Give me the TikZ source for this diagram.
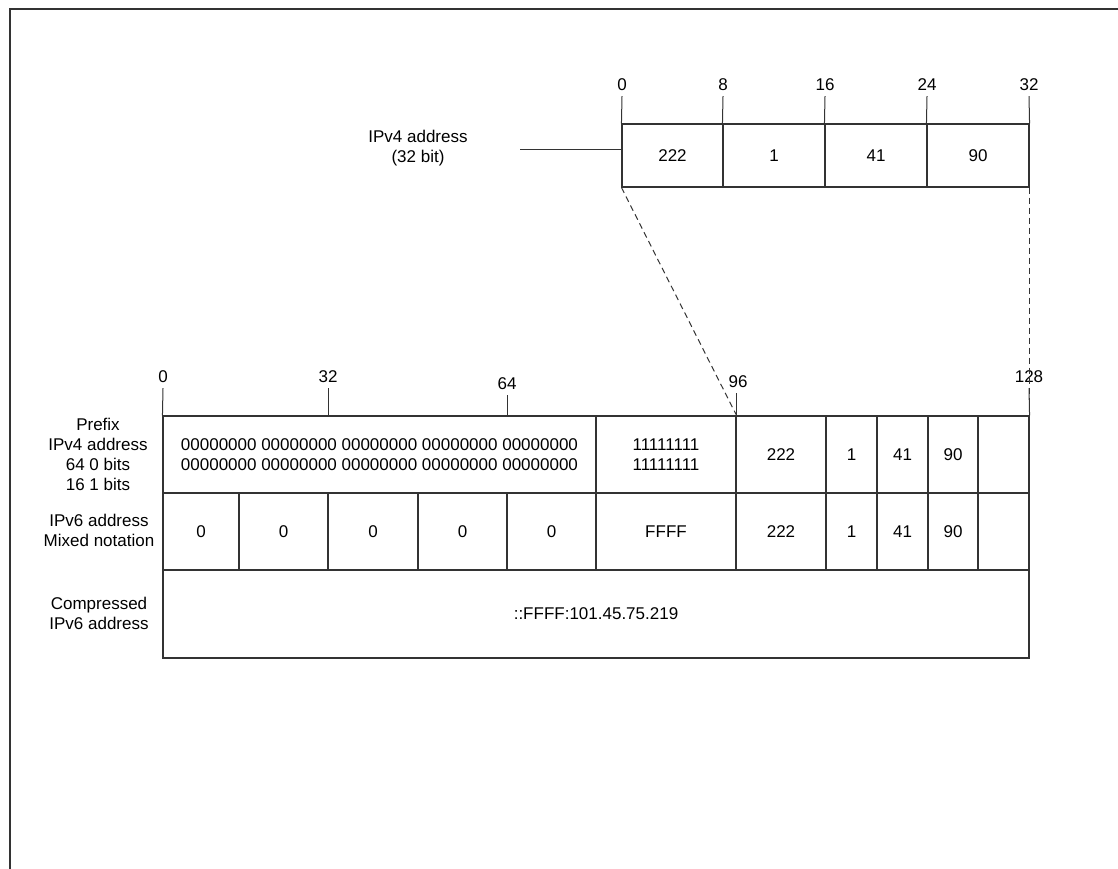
\documentclass[tikz,border=0pt]{standalone}
\usepackage{fontspec}
\setmainfont{Liberation Sans}
\begin{document}
\begin{tikzpicture}[x=1pt, y=-1pt,
    cell/.style ={rectangle, draw=black!80, line width=1.1pt, inner sep=0pt},
    bitmark/.style ={inner sep=5pt},
    rowlabel/.style ={align=center, inner sep=0pt},
    zoomline/.style ={draw=black!80, line width=1pt, dash pattern=on 6pt off 4pt},
    font=\fontsize{17}{20}\selectfont]
   \useasboundingbox (0,0) rectangle (1118,869);
   \draw[black!80, line width=2pt] (1120,9) -- (10,9) -- (10,871);

   % IPv4 address
   \node[rowlabel] (v4label) at (418,148) {IPv4 address\\(32 bit)};
   \coordinate (v4tail) at (520,150);
   \node[cell, minimum width=101pt, minimum height=63pt] (v4a) at (672.5,155.5) {222};
   \node[cell, minimum width=102pt, minimum height=63pt] (v4b) at (774,155.5) {1};
   \node[cell, minimum width=102pt, minimum height=63pt] (v4c) at (876,155.5) {41};
   \node[cell, minimum width=102pt, minimum height=63pt] (v4d) at (978,155.5) {90};

   \node[bitmark] (t0)  at (622,85)  {0};
   \node[bitmark] (t8)  at (723,85)  {8};
   \node[bitmark] (t16) at (825,85)  {16};
   \node[bitmark] (t24) at (927,85)  {24};
   \node[bitmark] (t32) at (1029,85) {32};

   \draw[black!80, line width=1pt] (v4tail) to (v4tail -| v4a.west);
   \draw[black!80, line width=1pt] (t0.south) to (v4a.north west);
   \draw[black!80, line width=1pt] (t8.south) to (v4b.north west);
   \draw[black!80, line width=1pt] (t16.south) to (v4c.north west);
   \draw[black!80, line width=1pt] (t24.south) to (v4d.north west);
   \draw[black!80, line width=1pt] (t32.south) to (v4d.north east);

   % row labels
   \node[rowlabel] (prefixlabel) at (98,454) {Prefix\\IPv4 address\\64 0 bits\\16 1 bits};
   \node[rowlabel] (mixedlabel) at (99,530) {IPv6 address\\Mixed notation};
   \node[rowlabel] (shortlabel) at (99,613) {Compressed\\IPv6 address};

   % prefix row
   \node[cell, minimum width=433pt, minimum height=77pt, align=center] (pzero) at (379.5,454.5)
      {00000000 00000000 00000000 00000000 00000000\\00000000 00000000 00000000 00000000 00000000};
   \node[cell, minimum width=140pt, minimum height=77pt, align=center] (pone) at (666,454.5) {11111111\\11111111};
   \node[cell, minimum width=90pt, minimum height=77pt] (pa) at (781,454.5) {222};
   \node[cell, minimum width=51pt, minimum height=77pt] (pb) at (851.5,454.5) {1};
   \node[cell, minimum width=51pt, minimum height=77pt] (pc) at (902.5,454.5) {41};
   \node[cell, minimum width=50pt, minimum height=77pt] (pd) at (953,454.5) {90};
   \node[cell, minimum width=51pt, minimum height=77pt] (pe) at (1003.5,454.5) {};

   % mixed notation row
   \node[cell, minimum width=76pt, minimum height=77pt] (m1) at (201,531.5) {0};
   \node[cell, minimum width=89pt, minimum height=77pt] (m2) at (283.5,531.5) {0};
   \node[cell, minimum width=90pt, minimum height=77pt] (m3) at (373,531.5) {0};
   \node[cell, minimum width=89pt, minimum height=77pt] (m4) at (462.5,531.5) {0};
   \node[cell, minimum width=89pt, minimum height=77pt] (m5) at (551.5,531.5) {0};
   \node[cell, minimum width=140pt, minimum height=77pt] (mf) at (666,531.5) {FFFF};
   \node[cell, minimum width=90pt, minimum height=77pt] (ma) at (781,531.5) {222};
   \node[cell, minimum width=51pt, minimum height=77pt] (mb) at (851.5,531.5) {1};
   \node[cell, minimum width=51pt, minimum height=77pt] (mc) at (902.5,531.5) {41};
   \node[cell, minimum width=50pt, minimum height=77pt] (md) at (953,531.5) {90};
   \node[cell, minimum width=51pt, minimum height=77pt] (me) at (1003.5,531.5) {};

   % compressed row
   \node[cell, minimum width=866pt, minimum height=88pt] (comp) at (596,614) {::FFFF:101.45.75.219};

   % bit positions
   \node[bitmark] (b0)   at (163,377)  {0};
   \node[bitmark] (b32)  at (328,377)  {32};
   \node[bitmark] (b64)  at (507,384)  {64};
   \node[bitmark] (b96)  at (738,382)  {96};
   \node[bitmark] (b128) at (1029,377) {128};

   \draw[black!80, line width=1pt] (b0.south) to (pzero.north west);
   \draw[black!80, line width=1pt] (b32.south) to (b32.south |- pzero.north);
   \draw[black!80, line width=1pt] (b64.south) to (b64.south |- pzero.north);
   \draw[black!80, line width=1pt] (pone.north east |- b96.south) to (pone.north east);
   \draw[black!80, line width=1pt] (b128.south) to (pe.north east);

   % mapping
   \draw[zoomline] (v4a.south west) to (pone.north east);
   \draw[zoomline] (v4d.south east) to (pe.north east);
\end{tikzpicture}
\end{document}
